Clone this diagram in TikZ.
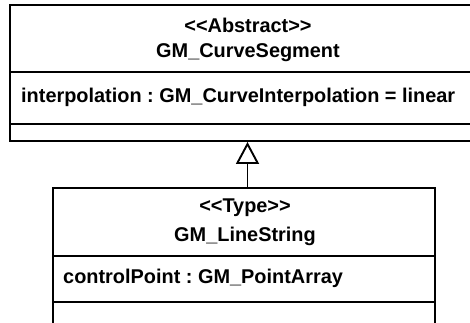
\documentclass[tikz,border=0pt]{standalone}
\usepackage{fontspec}
\setmainfont{Liberation Sans}
\usetikzlibrary{arrows.meta}
\frenchspacing
\begin{document}
\begin{tikzpicture}[x=1pt,y=1pt,
  box/.style={draw,line width=1.9pt,rectangle,inner sep=0pt},
  lbl/.style={inner sep=0pt,font=\fontsize{19.9}{22}\selectfont\bfseries},
  sep/.style={line width=1.9pt},
  gen/.style={line width=1.9pt,-{Triangle[open,length=22pt,width=23pt,line width=1.9pt]}}]
\useasboundingbox (0,0) rectangle (470,-322);
% upper class
\node[box,minimum width=475pt,minimum height=136pt] (up) at (247.5,-73) {};
\node[lbl] (upst) at (248,-25) {<{}<Abstract>{}>};
\node[lbl] (upnm) at (248,-53) {GM\_CurveSegment};
\node[lbl,anchor=west] (upat) at (21,-97) {interpolation : GM\_CurveInterpolation = linear};
\coordinate (u1) at (10,-72);
\coordinate (u2) at (10,-124);
\draw[sep] (u1) -- (u1 -| up.east);
\draw[sep] (u2) -- (u2 -| up.east);
% lower class
\node[box,minimum width=382pt,minimum height=160pt] (lo) at (244,-268) {};
\node[lbl] (lost) at (245,-208) {<{}<Type>{}>};
\node[lbl] (lonm) at (245,-236) {GM\_LineString};
\node[lbl,anchor=west] (loat) at (63,-278) {controlPoint : GM\_PointArray};
\coordinate (l1) at (53,-256);
\coordinate (l2) at (53,-302);
\draw[sep] (l1) -- (l1 -| lo.east);
\draw[sep] (l2) -- (l2 -| lo.east);
% generalization
\coordinate (g) at (247.5,0);
\draw[gen] (g |- lo.north) -- (g |- up.south);
\end{tikzpicture}
\end{document}
